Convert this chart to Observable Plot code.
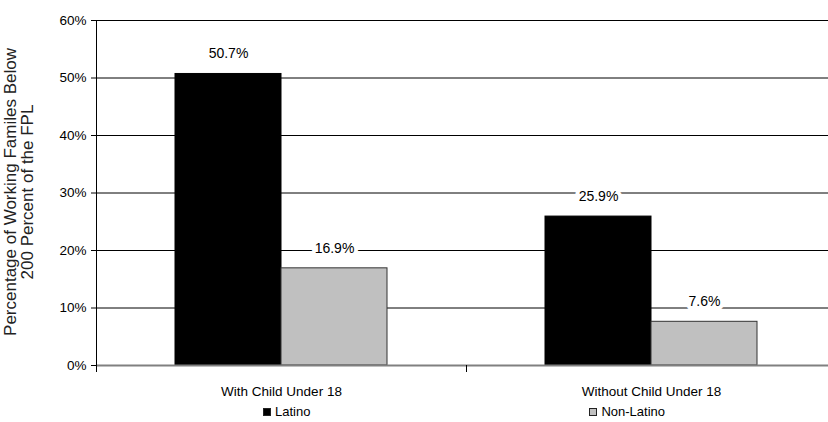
<!DOCTYPE html>
<html>
<head>
<meta charset="utf-8">
<script src="https://cdn.jsdelivr.net/npm/d3@7"></script>
<script src="https://cdn.jsdelivr.net/npm/@observablehq/plot@0.6"></script>
<style>
  html, body { margin: 0; padding: 0; background: #fff; overflow: hidden; width: 828px; height: 422px; }
  #wrap { position: relative; width: 840px; font-family: "Liberation Sans", Arial, sans-serif; color: #000; }
  #ytitle {
    position: absolute; width: 340px; height: 34px; left: -150px; top: 175px;
    transform: rotate(-90deg); transform-origin: 50% 50%;
    text-align: center; font-size: 17px; line-height: 16.5px; color: #222; white-space: nowrap;
  }
  #legend {
    display: flex; justify-content: center; gap: 279px; margin-left: 94px; width: 740px;
    font-size: 13px; line-height: 24px;
  }
  .item { display: flex; align-items: center; gap: 4px; }
  .sw { width: 8px; height: 8px; box-sizing: border-box; border: 1px solid #222; }
</style>
</head>
<body>
<div id="wrap"></div>
<script>
// Family types along the category axis
const groups = ["With Child Under 18", "Without Child Under 18"];
// Series (legend order)
const series = ["Latino", "Non-Latino"];
// Percent of working families below 200% of the FPL
const latino = [50.7, 25.9];
const nonLatino = [16.9, 7.6];
const seriesColors = ["#000000", "#c0c0c0"];
const yTicks = [0, 10, 20, 30, 40, 50, 60];
const yTitle = ["Percentage of Working Familes Below", "200 Percent of the FPL"];

const rows = groups.flatMap((g, i) => [
  {group: g, series: series[0], value: latino[i]},
  {group: g, series: series[1], value: nonLatino[i]}
]);

const W = 840, H = 400, mTop = 20, mBottom = 35, mLeft = 96, mRight = 4;

const chart = Plot.plot({
  width: W,
  height: H,
  marginTop: mTop,
  marginBottom: mBottom,
  marginLeft: mLeft,
  marginRight: mRight,
  style: {fontFamily: "'Liberation Sans', Arial, sans-serif", fontSize: "13.5px", color: "#000", background: "#fff"},
  fx: {domain: groups, padding: 0, label: null, tickSize: 0, tickPadding: 21},
  x: {domain: series, paddingInner: 0, paddingOuter: 0.73, axis: null},
  y: {domain: [0, 60], ticks: yTicks, tickFormat: d => d + "%", label: null, tickSize: 5, tickPadding: 5},
  color: {domain: series, range: seriesColors},
  marks: [
    Plot.ruleY(yTicks.filter(d => d > 0), {stroke: "#000", strokeWidth: 1}),
    Plot.barY(rows, {
      fx: "group", x: "series", y: "value", fill: "series",
      stroke: d => d.series === series[0] ? "#000" : "#333", strokeWidth: 1
    }),
    Plot.text(rows, {
      fx: "group", x: "series", y: "value",
      text: d => d.value.toFixed(1) + "%",
      dy: -20, fontSize: 14, fill: "#000",
      stroke: "#fff", strokeWidth: 8, paintOrder: "stroke"
    }),
    Plot.ruleY([0], {stroke: "#808080", strokeWidth: 2}),
    // value axis line on the left edge of the first panel
    Plot.frame({anchor: "left", facetAnchor: "left", stroke: "#000"}),
    // category boundary ticks below the baseline
    Plot.frame({anchor: "left", insetTop: H - mTop - mBottom, insetBottom: -6, stroke: "#000"})
  ]
});

const wrap = document.getElementById("wrap");
wrap.appendChild(chart);

const yt = document.createElement("div");
yt.id = "ytitle";
yt.innerHTML = yTitle.join("<br>");
wrap.appendChild(yt);

const legend = document.createElement("div");
legend.id = "legend";
series.forEach((s, i) => {
  const item = document.createElement("div");
  item.className = "item";
  const sw = document.createElement("span");
  sw.className = "sw";
  sw.style.background = seriesColors[i];
  const label = document.createElement("span");
  label.textContent = s;
  item.appendChild(sw);
  item.appendChild(label);
  legend.appendChild(item);
});
wrap.appendChild(legend);
</script>
</body>
</html>
